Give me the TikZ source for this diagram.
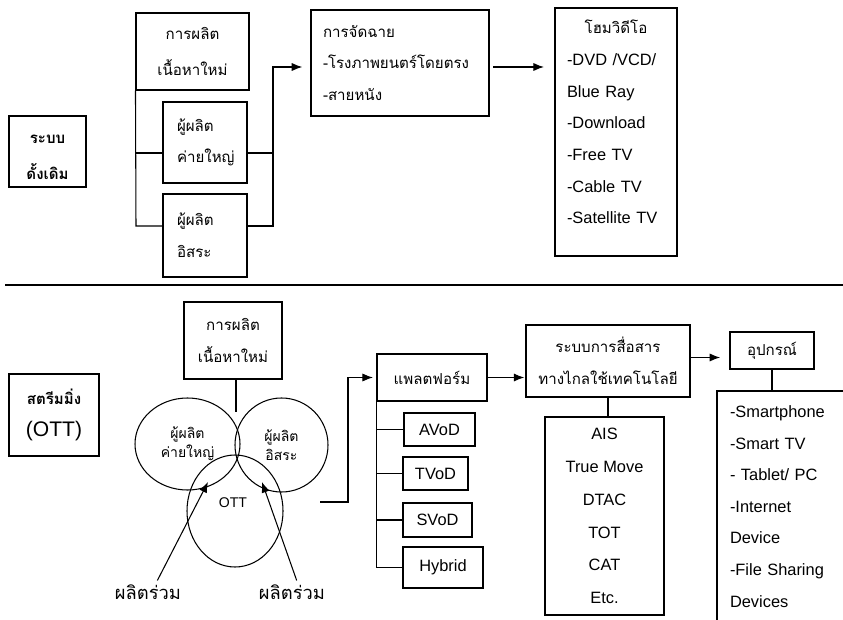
\documentclass[tikz,border=0pt]{standalone}
\usepackage{fontspec}
\setmainfont{Liberation Sans}
\newfontfamily\thaif[Script=Thai,Scale=0.92]{Loma}
\usetikzlibrary{shapes.geometric,arrows.meta}

\tikzset{
  box/.style={draw, line width=0.9pt, inner sep=0pt},
  tht/.style={font=\thaif\fontsize{14}{27}\selectfont},
  conn/.style={line width=0.9pt},
  arr/.style={line width=0.9pt, -{Latex[length=9pt,width=7pt]}},
  ring/.style={draw, ellipse, line width=0.9pt, inner sep=0pt,
    font=\thaif\fontsize{13}{16}\selectfont, align=center},
}

\begin{document}
\begin{tikzpicture}[x=0.03cm, y=-0.03cm, font=\fontsize{14}{27}\selectfont]
\clip (0,0) rectangle (843,620);

% Traditional system
  \node[box, minimum width=2.31cm, minimum height=2.13cm, align=center, font=\thaif\bfseries\fontsize{14}{31}\selectfont] (trad) at (47.5,151.5) {\rule{0pt}{17pt}ระบบ\\ดั้งเดิม};

  \node[box, minimum width=3.39cm, minimum height=2.31cm, align=center, font=\thaif\fontsize{14}{31}\selectfont] (newc) at (192.5,51.5) {การผลิต\\เนื้อหาใหม่};
  \node[box, tht, minimum width=2.52cm, minimum height=2.43cm, align=left, text width=1.68cm] (bigp) at (205,142.5) {ผู้ผลิต\\ค่ายใหญ่};
  \node[box, tht, minimum width=2.52cm, minimum height=2.49cm, align=left, text width=1.68cm] (indp) at (205,235.5) {ผู้ผลิต\\อิสระ};

  \node[box, tht, minimum width=5.34cm, minimum height=3.18cm, align=left, text width=4.62cm] (show) at (400,63) {การจัดฉาย\\-โรงภาพยนตร์โดยตรง\\-สายหนัง};
  \node[box, minimum width=3.66cm, minimum height=7.44cm, align=left, text width=2.94cm] (home) at (616,132)
    {\makebox[\linewidth]{\thaif โฮมวิดีโอ}\\-DVD /VCD/\\Blue Ray\\-Download\\-Free TV\\-Cable TV\\-Satellite TV\\[-10pt]\mbox{}};

  % producers into the bus
  \coordinate (busL) at (136,226);
  \coordinate (busR) at (273,67);
  \draw[conn] (newc.south west) -- (busL) -- (busL -| indp.west);
  \draw[conn] (newc.south west |- 0,153) -- (bigp.west |- 0,153);
  \draw[conn] (bigp.east |- 0,153) -| (busR);
  \draw[arr, shorten >=7pt] (indp.east |- busL) -| (busR) -- (busR -| show.west);
  \draw[arr, shorten <=3pt, shorten >=9pt] (show.east |- busR) -- (home.west |- busR);

  % Separator
  \draw[line width=1.2pt] (5,285) -- (843,285);

% Streaming (OTT)
  \node[box, minimum width=2.7cm, minimum height=2.46cm, align=center] (ott) at (54,415) {{\thaif\bfseries สตรีมมิ่ง}\\{\fontsize{18}{27}\selectfont(OTT)}};
  \node[box, tht, minimum width=2.94cm, minimum height=2.31cm, align=center] (newc2) at (233,340.5) {การผลิต\\เนื้อหาใหม่};

  \node[ring, minimum width=3.15cm, minimum height=2.76cm] (bigc) at (187.5,444) {ผู้ผลิต\\ค่ายใหญ่};
  \node[ring, minimum width=2.79cm, minimum height=2.82cm] (indc) at (281.5,445) {ผู้ผลิต\\อิสระ};
  \node[ring, minimum width=2.88cm, minimum height=3.36cm] (ottc) at (235,511) {};
  \node[font=\fontsize{12}{14}\selectfont] (otttxt) at (233,503) {OTT};

  \coordinate (top) at (236,412);
  \draw[conn] (newc2.south -| top) -- (top);

  % joint production
  \node[font=\thaif\fontsize{17}{18}\selectfont] (co1) at (148,592) {ผลิตร่วม};
  \node[font=\thaif\fontsize{17}{18}\selectfont] (co2) at (292,592) {ผลิตร่วม};
  \coordinate (tip1) at (208,482);
  \coordinate (tip2) at (262,482);
  \draw[arr] ([xshift=8pt]co1.north) -- (tip1);
  \draw[arr] ([xshift=4pt]co2.north) -- (tip2);

  % platforms
  \node[box, tht, minimum width=3.3cm, minimum height=1.41cm] (plat) at (432,377.5) {แพลตฟอร์ม};
  \node[box, minimum width=2.13cm, minimum height=0.99cm] (avod) at (439.5,429.5) {AVoD};
  \node[box, minimum width=1.95cm, minimum height=0.99cm] (tvod) at (435.5,473.5) {TVoD};
  \node[box, minimum width=2.07cm, minimum height=1.02cm] (svod) at (437.5,520) {SVoD};
  \node[box, minimum width=2.4cm, minimum height=1.23cm] (hybrid) at (443,567.5) {Hybrid};

  \coordinate (ottout) at (320,502);
  \coordinate (bend) at (348,502);
  \draw[arr, shorten >=3pt] (ottout) -- (bend) |- (plat.west);
  \draw[conn] (plat.south west) |- (hybrid.west);
  \foreach \b in {avod,tvod,svod}
    \draw[conn] (plat.south west |- \b.west) -- (\b.west);

  % telecom
  \node[box, tht, minimum width=4.92cm, minimum height=2.16cm, align=center] (comm) at (608,361) {ระบบการสื่อสาร\\ทางไกลใช้เทคโนโลยี};
  \node[box, minimum width=3.57cm, minimum height=5.94cm, align=center, font=\fontsize{14}{28}\selectfont] (ops) at (604.5,516) {AIS\\True Move\\DTAC\\TOT\\CAT\\Etc.};
  \draw[arr, shorten >=1pt] (plat.east) -- (plat.east -| comm.west);
  \draw[conn] (comm.south) -- (comm.south |- ops.north);

  % devices
  \node[box, tht, minimum width=2.52cm, minimum height=1.11cm] (dev) at (772,350.5) {อุปกรณ์};
  \node[box, minimum width=3.99cm, minimum height=6.93cm, align=left, text width=3.21cm] (list) at (783.5,506.5)
    {-Smartphone\\-Smart TV\\- Tablet/ PC\\-Internet\\Device\\-File Sharing\\Devices};
  \draw[arr, shorten >=8pt] ([yshift=3pt]comm.east) -- ([yshift=3pt]comm.east -| dev.west);
  \draw[conn] (dev.south) -- (dev.south |- list.north);

\end{tikzpicture}
\end{document}
